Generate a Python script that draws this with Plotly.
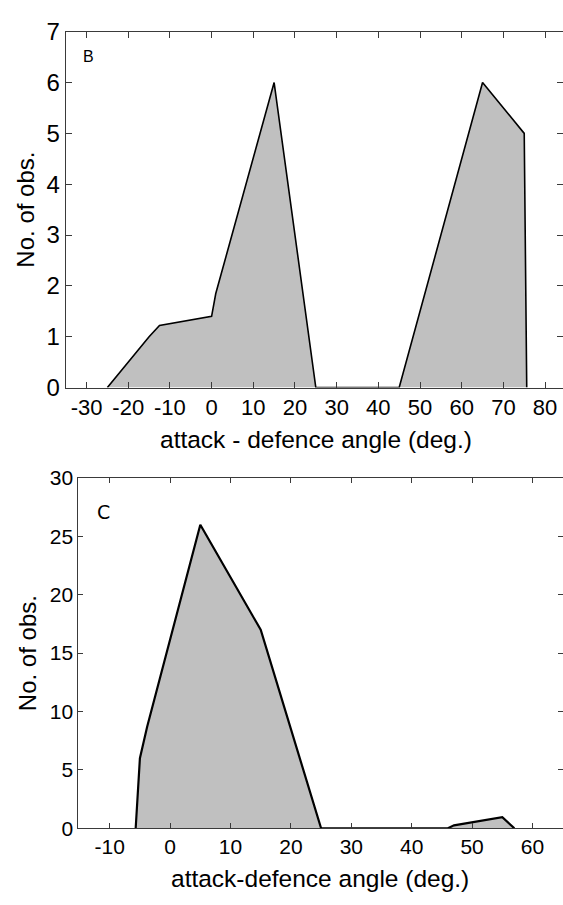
import plotly.graph_objects as go

# Panel B: attack - defence angle distribution
b_angle = [-25, -15, -12.5, 0, 1, 15, 25, 45, 65, 75, 75.6]
b_count = [0, 1.0, 1.22, 1.4, 1.85, 6, 0, 0, 6, 5, 0]
b_xticks = [-30, -20, -10, 0, 10, 20, 30, 40, 50, 60, 70, 80]
b_yticks = [0, 1, 2, 3, 4, 5, 6, 7]

# Panel C: attack-defence angle distribution
c_angle = [-5.7, -5, -3.8, 5, 15, 25, 46, 47, 55, 57]
c_count = [0, 6, 8.7, 26, 17, 0, 0, 0.25, 0.95, 0]
c_xticks = [-10, 0, 10, 20, 30, 40, 50, 60]
c_yticks = [0, 5, 10, 15, 20, 25, 30]

W, H = 563, 905
FONT = "Liberation Sans, Arial, sans-serif"
AX = "#3a3a3a"
FILL = "#c0c0c0"


def px_x(v):
    return v / W


def px_y(v):
    return 1 - v / H


def labels(vals):
    # plain hyphen-minus for negative tick labels
    return [str(v) for v in vals]


fig = go.Figure()

fig.add_trace(go.Scatter(
    x=b_angle, y=b_count, xaxis="x", yaxis="y", mode="lines",
    line=dict(color="black", width=1.6), fill="tozeroy", fillcolor=FILL,
    showlegend=False, hoverinfo="skip"))
fig.add_trace(go.Scatter(
    x=c_angle, y=c_count, xaxis="x2", yaxis="y2", mode="lines",
    line=dict(color="black", width=2.2), fill="tozeroy", fillcolor=FILL,
    showlegend=False, hoverinfo="skip"))
# carriers for the right-hand tick axes
fig.add_trace(go.Scatter(x=[0], y=[0], xaxis="x", yaxis="y3", mode="markers",
                         marker=dict(opacity=0), showlegend=False, hoverinfo="skip"))
fig.add_trace(go.Scatter(x=[0], y=[0], xaxis="x2", yaxis="y4", mode="markers",
                         marker=dict(opacity=0), showlegend=False, hoverinfo="skip"))

common_x = dict(showgrid=False, zeroline=False, showline=True, linecolor=AX,
                linewidth=1, mirror="ticks", ticks="inside", tickcolor=AX,
                tickwidth=1, color="black")
common_y = dict(showgrid=False, zeroline=False, showline=True, linecolor=AX,
                linewidth=1, mirror=False, ticks="inside", tickcolor=AX,
                tickwidth=1, color="black")
right_y = dict(showgrid=False, zeroline=False, showline=False, ticks="inside",
               tickcolor=AX, tickwidth=1, showticklabels=False, side="right")

b_top, b_bot, b_left = 18.3, 385.0, 65.7
c_top, c_bot, c_left = 478.3, 839.3, 78.3

fig.update_layout(
    width=W, height=H,
    margin=dict(l=0, r=0, t=0, b=0),
    paper_bgcolor="white", plot_bgcolor="white",
    font=dict(family=FONT, color="black"),
    xaxis=dict(common_x, domain=[px_x(b_left), 1], anchor="y",
               range=[-35, 84.3], tickvals=b_xticks, ticktext=labels(b_xticks),
               ticklen=6, tickfont=dict(size=22, family=FONT)),
    yaxis=dict(common_y, domain=[px_y(b_bot), px_y(b_top)], anchor="x",
               range=[0, 7], tickvals=b_yticks, ticktext=labels(b_yticks),
               ticklen=6, tickfont=dict(size=24, family=FONT)),
    yaxis3=dict(right_y, overlaying="y", anchor="x", range=[0, 7],
                tickvals=b_yticks, ticklen=6),
    xaxis2=dict(common_x, domain=[px_x(c_left), 1], anchor="y2",
                range=[-15.2, 65.05], tickvals=c_xticks, ticktext=labels(c_xticks),
                ticklen=5, tickfont=dict(size=21, family=FONT)),
    yaxis2=dict(common_y, domain=[px_y(c_bot), px_y(c_top)], anchor="x2",
                range=[0, 30], tickvals=c_yticks, ticktext=labels(c_yticks),
                ticklen=5, tickfont=dict(size=21, family=FONT)),
    yaxis4=dict(right_y, overlaying="y2", anchor="x2", range=[0, 30],
                tickvals=c_yticks, ticklen=5),
)

annotations = [
    dict(text="B", x=px_x(88.3), y=px_y(43.3), font=dict(size=16, family=FONT)),
    dict(text="C", x=px_x(103.3), y=px_y(513.3), font=dict(size=19, family="DejaVu Sans")),
    dict(text="attack - defence angle (deg.)", x=px_x(315.5), y=px_y(439),
         font=dict(size=24.5, family=FONT)),
    dict(text="attack-defence angle (deg.)", x=px_x(320.5), y=px_y(891),
         font=dict(size=24.5, family=FONT)),
    dict(text="No. of obs.", x=px_x(26), y=px_y((b_top + b_bot) / 2),
         textangle=-90, font=dict(size=24, family=FONT)),
    dict(text="No. of obs.", x=px_x(27), y=px_y((c_top + c_bot) / 2),
         textangle=-90, font=dict(size=24, family=FONT)),
]
for a in annotations:
    a.update(xref="paper", yref="paper", xanchor="center", yanchor="middle",
             showarrow=False)
fig.update_layout(annotations=annotations)

fig.write_html("out.html")
